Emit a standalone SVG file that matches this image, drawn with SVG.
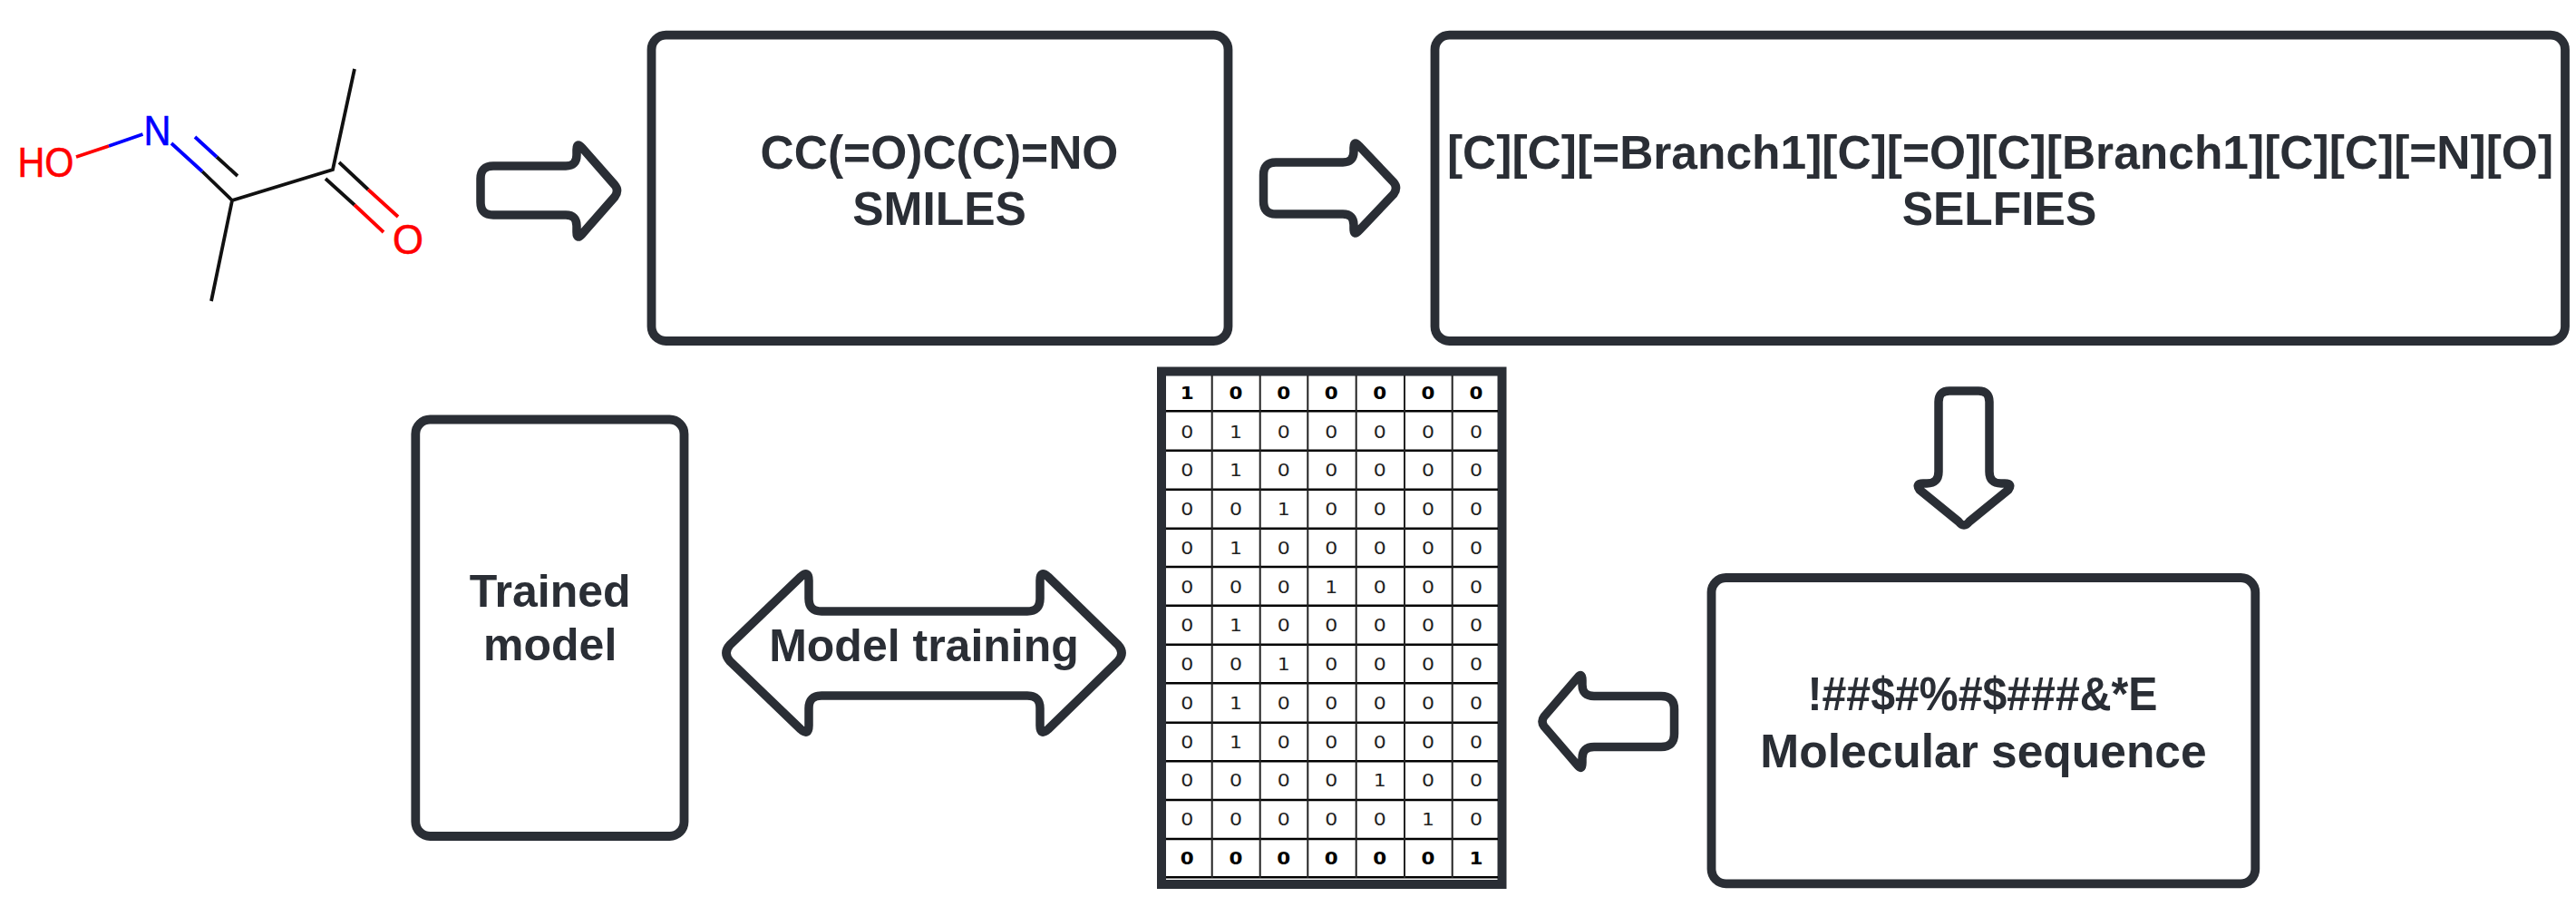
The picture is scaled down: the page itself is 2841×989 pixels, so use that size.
<svg xmlns="http://www.w3.org/2000/svg" width="2841" height="989" viewBox="0 0 2841 989">
<style>
.box{fill:#fff;stroke:#2a2e35;stroke-width:9.8}
.arr{fill:#fff;stroke:#2a2e35;stroke-width:9.5;stroke-linejoin:round}
.t{font-family:"Liberation Sans",Arial,sans-serif;font-weight:700;font-size:51.5px;fill:#2a2e35;text-anchor:middle}
.bk{stroke:#111;stroke-width:3.8;fill:none}
.re{stroke:#ff0000;stroke-width:3.8;fill:none}
.bl{stroke:#0000ff;stroke-width:3.8;fill:none}
.a{font-family:"Liberation Sans",Arial,sans-serif;font-size:47px;stroke-width:.6}
.c{font-family:"DejaVu Sans",sans-serif;font-size:20px;fill:#222;text-anchor:middle}
.b{font-weight:700;fill:#000;font-size:19.500px}
.h{stroke:#000;stroke-width:2.4}
.v{stroke:#222;stroke-width:2}
</style>
<rect width="2841" height="989" fill="#fff"/>
<g id="molecule">
<path class="bk" d="M391,76L367,187L256,221L233,332M359,197L391,226M374,179L406,209M256,221L223,189M262,194L239,173"/>
<path class="re" d="M391,226L423,256M406,209L439,239M120,161L84,173"/>
<path class="bl" d="M223,189L189,158M239,173L215,151M157.5,148L120,161"/>
<text class="a" x="19.500" y="195" fill="#ff0000" stroke="#ff0000" textLength="62" lengthAdjust="spacingAndGlyphs">HO</text>
<text class="a" x="158.500" y="160" fill="#0000ff" stroke="#0000ff" textLength="30" lengthAdjust="spacingAndGlyphs">N</text>
<text class="a" x="433" y="280" fill="#ff0000" stroke="#ff0000" textLength="34" lengthAdjust="spacingAndGlyphs">O</text>
</g>
<g id="connectors">
<path id="arrow-mol-smiles" class="arr" d="M544,183H624Q636,183 636,171V165Q636,156 642,163L678,204Q683,210 678,217L642,258Q636,265 636,256V249Q636,237 624,237H544Q530,237 530,223V197Q530,183 544,183Z"/>
<path id="arrow-smiles-selfies" class="arr" d="M1407,179H1481Q1493,179 1493,167V163Q1493,154 1499,161L1537,201Q1542,207 1537,214L1499,254Q1493,261 1493,252V248Q1493,236 1481,236H1407Q1393.5,236 1393.5,222V193Q1393.5,179 1407,179Z"/>
<path id="arrow-selfies-seq" class="arr" d="M2150,431H2182Q2194,431 2194,443V520Q2194,533 2207,533H2211Q2220,533 2215,540L2172,575Q2166,583 2160,575L2117,540Q2112,533 2121,533H2125Q2138,533 2138,520V443Q2138,431 2150,431Z"/>
<path id="arrow-seq-matrix" class="arr" d="M1832,767.5H1758Q1745,767.5 1745,755V750Q1745,741 1740,747L1703,790Q1699,795.5 1703,801L1740,844Q1745,850 1745,841V836Q1745,823.5 1758,823.5H1832Q1846.5,823.5 1846.5,809V782Q1846.5,767.5 1832,767.5Z"/>
</g>
<g id="smiles">
<rect class="box" x="718.500" y="38.700" width="636" height="337.300" rx="16"/>
<text class="t" x="1036" y="186">CC(=O)C(C)=NO</text>
<text class="t" x="1036" y="248">SMILES</text>
</g>
<g id="selfies">
<rect class="box" x="1582.500" y="38.700" width="1246.500" height="337.300" rx="16"/>
<text class="t" x="2206" y="186">[C][C][=Branch1][C][=O][C][Branch1][C][C][=N][O]</text>
<text class="t" x="2205" y="248">SELFIES</text>
</g>
<g id="molecular-sequence">
<rect class="box" x="1887.500" y="637" width="599.800" height="337.300" rx="16"/>
<text class="t" x="2186.500" y="783" textLength="386" lengthAdjust="spacingAndGlyphs">!##$#%#$###&amp;*E</text>
<text class="t" x="2187.500" y="845.500">Molecular sequence</text>
</g>
<g id="trained-model">
<rect class="box" x="458.300" y="462.500" width="296.200" height="459.500" rx="16"/>
<text class="t" x="606.700" y="668.500" style="font-size:50px">Trained</text>
<text class="t" x="606.700" y="728" style="font-size:50px">model</text>
</g>
<g id="model-training">
<path class="arr" d="M906,674H1133Q1147,674 1147,660V640Q1147,628 1156,636L1233,711Q1241,720 1233,729L1156,804Q1147,812 1147,800V781Q1147,767 1133,767H906Q892,767 892,781V800Q892,812 883,804L805,729Q797,720 805,711L883,636Q892,628 892,640V660Q892,674 906,674Z"/>
<text class="t" x="1019" y="729" style="font-size:50px">Model training</text>
</g>
<g id="matrix">
<rect x="1281" y="409.500" width="375.500" height="565.500" fill="#fff" stroke="#2a2e35" stroke-width="10"/>
<path class="h" d="M1286,453.300H1652M1286,496.700H1652M1286,539.700H1652M1286,582.700H1652M1286,625H1652M1286,667.700H1652M1286,710.700H1652M1286,753.300H1652M1286,796.700H1652M1286,839.300H1652M1286,882H1652M1286,925H1652M1286,967.300H1652"/>
<path class="v" d="M1336.700,414V968M1389.700,414V968M1442.300,414V968M1495.700,414V968M1549,414V968M1601.700,414V968"/>
<g transform="scale(1.1 1)">
<text class="c b" x="1190.300" y="439.700">1</text><text class="c b" x="1239.100" y="439.700">0</text><text class="c b" x="1287" y="439.700">0</text><text class="c b" x="1334.800" y="439.700">0</text><text class="c b" x="1383.400" y="439.700">0</text><text class="c b" x="1431.800" y="439.700">0</text><text class="c b" x="1480" y="439.700">0</text>
<text class="c" x="1190.300" y="483">0</text><text class="c" x="1239.100" y="483">1</text><text class="c" x="1287" y="483">0</text><text class="c" x="1334.800" y="483">0</text><text class="c" x="1383.400" y="483">0</text><text class="c" x="1431.800" y="483">0</text><text class="c" x="1480" y="483">0</text>
<text class="c" x="1190.300" y="525">0</text><text class="c" x="1239.100" y="525">1</text><text class="c" x="1287" y="525">0</text><text class="c" x="1334.800" y="525">0</text><text class="c" x="1383.400" y="525">0</text><text class="c" x="1431.800" y="525">0</text><text class="c" x="1480" y="525">0</text>
<text class="c" x="1190.300" y="568">0</text><text class="c" x="1239.100" y="568">0</text><text class="c" x="1287" y="568">1</text><text class="c" x="1334.800" y="568">0</text><text class="c" x="1383.400" y="568">0</text><text class="c" x="1431.800" y="568">0</text><text class="c" x="1480" y="568">0</text>
<text class="c" x="1190.300" y="611">0</text><text class="c" x="1239.100" y="611">1</text><text class="c" x="1287" y="611">0</text><text class="c" x="1334.800" y="611">0</text><text class="c" x="1383.400" y="611">0</text><text class="c" x="1431.800" y="611">0</text><text class="c" x="1480" y="611">0</text>
<text class="c" x="1190.300" y="654">0</text><text class="c" x="1239.100" y="654">0</text><text class="c" x="1287" y="654">0</text><text class="c" x="1334.800" y="654">1</text><text class="c" x="1383.400" y="654">0</text><text class="c" x="1431.800" y="654">0</text><text class="c" x="1480" y="654">0</text>
<text class="c" x="1190.300" y="696">0</text><text class="c" x="1239.100" y="696">1</text><text class="c" x="1287" y="696">0</text><text class="c" x="1334.800" y="696">0</text><text class="c" x="1383.400" y="696">0</text><text class="c" x="1431.800" y="696">0</text><text class="c" x="1480" y="696">0</text>
<text class="c" x="1190.300" y="739">0</text><text class="c" x="1239.100" y="739">0</text><text class="c" x="1287" y="739">1</text><text class="c" x="1334.800" y="739">0</text><text class="c" x="1383.400" y="739">0</text><text class="c" x="1431.800" y="739">0</text><text class="c" x="1480" y="739">0</text>
<text class="c" x="1190.300" y="782">0</text><text class="c" x="1239.100" y="782">1</text><text class="c" x="1287" y="782">0</text><text class="c" x="1334.800" y="782">0</text><text class="c" x="1383.400" y="782">0</text><text class="c" x="1431.800" y="782">0</text><text class="c" x="1480" y="782">0</text>
<text class="c" x="1190.300" y="825">0</text><text class="c" x="1239.100" y="825">1</text><text class="c" x="1287" y="825">0</text><text class="c" x="1334.800" y="825">0</text><text class="c" x="1383.400" y="825">0</text><text class="c" x="1431.800" y="825">0</text><text class="c" x="1480" y="825">0</text>
<text class="c" x="1190.300" y="867">0</text><text class="c" x="1239.100" y="867">0</text><text class="c" x="1287" y="867">0</text><text class="c" x="1334.800" y="867">0</text><text class="c" x="1383.400" y="867">1</text><text class="c" x="1431.800" y="867">0</text><text class="c" x="1480" y="867">0</text>
<text class="c" x="1190.300" y="910">0</text><text class="c" x="1239.100" y="910">0</text><text class="c" x="1287" y="910">0</text><text class="c" x="1334.800" y="910">0</text><text class="c" x="1383.400" y="910">0</text><text class="c" x="1431.800" y="910">1</text><text class="c" x="1480" y="910">0</text>
<text class="c b" x="1190.300" y="953">0</text><text class="c b" x="1239.100" y="953">0</text><text class="c b" x="1287" y="953">0</text><text class="c b" x="1334.800" y="953">0</text><text class="c b" x="1383.400" y="953">0</text><text class="c b" x="1431.800" y="953">0</text><text class="c b" x="1480" y="953">1</text>
</g>
</g>
</svg>
